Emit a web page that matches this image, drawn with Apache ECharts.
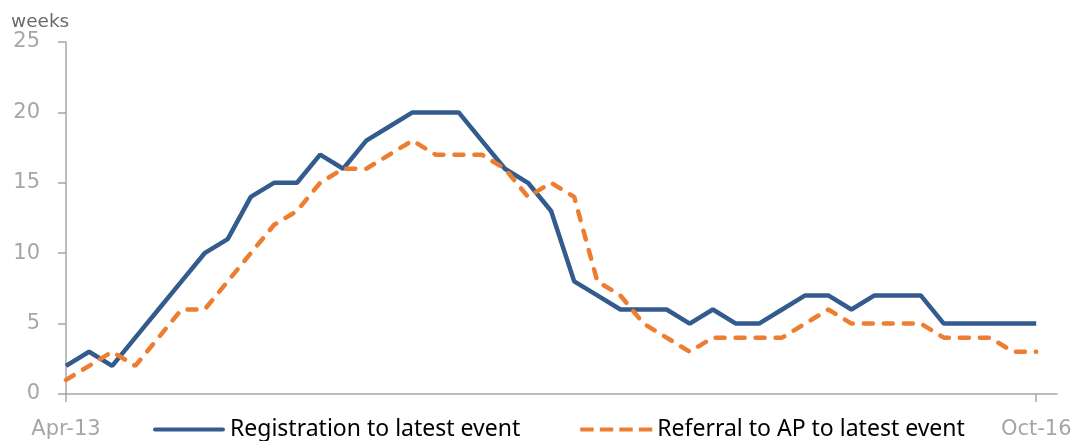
<!DOCTYPE html>
<html>
<head>
<meta charset="utf-8">
<script src="https://cdn.jsdelivr.net/npm/echarts@6/dist/echarts.min.js"></script>
<style>html,body{margin:0;padding:0;background:#fff}#c{width:1072px;height:441px}</style>
</head>
<body>
<div id="c"></div>
<script>
var months = ['Apr-13','May-13','Jun-13','Jul-13','Aug-13','Sep-13','Oct-13','Nov-13','Dec-13',
  'Jan-14','Feb-14','Mar-14','Apr-14','May-14','Jun-14','Jul-14','Aug-14','Sep-14','Oct-14','Nov-14','Dec-14',
  'Jan-15','Feb-15','Mar-15','Apr-15','May-15','Jun-15','Jul-15','Aug-15','Sep-15','Oct-15','Nov-15','Dec-15',
  'Jan-16','Feb-16','Mar-16','Apr-16','May-16','Jun-16','Jul-16','Aug-16','Sep-16','Oct-16'];
var registration = [2,3,2,4,6,8,10,11,14,15,15,17,16,18,19,20,20,20,18,16,15,13,8,7,6,6,6,5,6,5,5,6,7,7,6,7,7,7,5,5,5,5,5];
var referral = [1,2,3,2,4,6,6,8,10,12,13,15,16,16,17,18,17,17,17,16,14,15,14,8,7,5,4,3,4,4,4,4,5,6,5,5,5,5,4,4,4,3,3];
var xTickLabels = ['Apr-13','Oct-16'];
var yTicks = [0,5,10,15,20,25];

var chart = echarts.init(document.getElementById('c'), null, {renderer:'canvas'});
function pairs(arr){ return arr.map(function(v,i){ return [i,v]; }); }
var tickIdx = xTickLabels.map(function(l){ return months.indexOf(l); });
var axisGray = '#a6a6a6';
var blue = '#335b8e', orange = '#ed7d31';
chart.setOption({
  animation:false,
  title:{ text:'weeks', left:6, top:8, textStyle:{ fontFamily:'DejaVu Sans', fontSize:18.5, fontWeight:'normal', color:'#6a6a6a' } },
  grid:{ left:66, right:15, top:42, bottom:47, outerBoundsMode:'none', containLabel:false },
  legend:{
    left:148, top:413, itemWidth:72, itemHeight:5, itemGap:60,
    textStyle:{ fontFamily:'Noto Sans', fontSize:23, color:'#000' },
    data:[
      { name:'Registration to latest event', icon:'path://M2,0H68A2,2 0 0 1 68,4H2A2,2 0 0 1 2,0Z', itemStyle:{color:blue} },
      { name:'Referral to AP to latest event', icon:'path://M0,0H13V4H0Z M19,0H32V4H19Z M38,0H51V4H38Z M57,0H70V4H57Z', itemStyle:{color:orange} }
    ]
  },
  xAxis:{
    type:'value', min:0, max:42.9,
    splitLine:{show:false},
    axisLine:{ lineStyle:{ color:axisGray, width:1.5 } },
    axisTick:{ show:true, customValues:tickIdx, length:8, lineStyle:{ color:axisGray, width:1.5 } },
    axisLabel:{ customValues:tickIdx, margin:25, color:axisGray, fontFamily:'DejaVu Sans', fontSize:21,
      formatter:function(v){ return months[Math.round(v)]; } }
  },
  yAxis:{
    type:'value', min:yTicks[0], max:yTicks[yTicks.length-1], interval:5,
    splitLine:{show:false},
    axisLine:{ show:true, lineStyle:{ color:axisGray, width:1.5 } },
    axisTick:{ show:true, length:8, lineStyle:{ color:axisGray, width:1.5 } },
    axisLabel:{ margin:26, color:axisGray, fontFamily:'DejaVu Sans', fontSize:21 }
  },
  series:[
    { name:'Registration to latest event', type:'line', data:pairs(registration), symbol:'none',
      lineStyle:{ color:blue, width:4.5 }, itemStyle:{ color:blue } },
    { name:'Referral to AP to latest event', type:'line', data:pairs(referral), symbol:'none',
      lineStyle:{ color:orange, width:4.5, type:[9,11], cap:'round' }, itemStyle:{ color:orange } }
  ]
});
</script>
</body>
</html>
